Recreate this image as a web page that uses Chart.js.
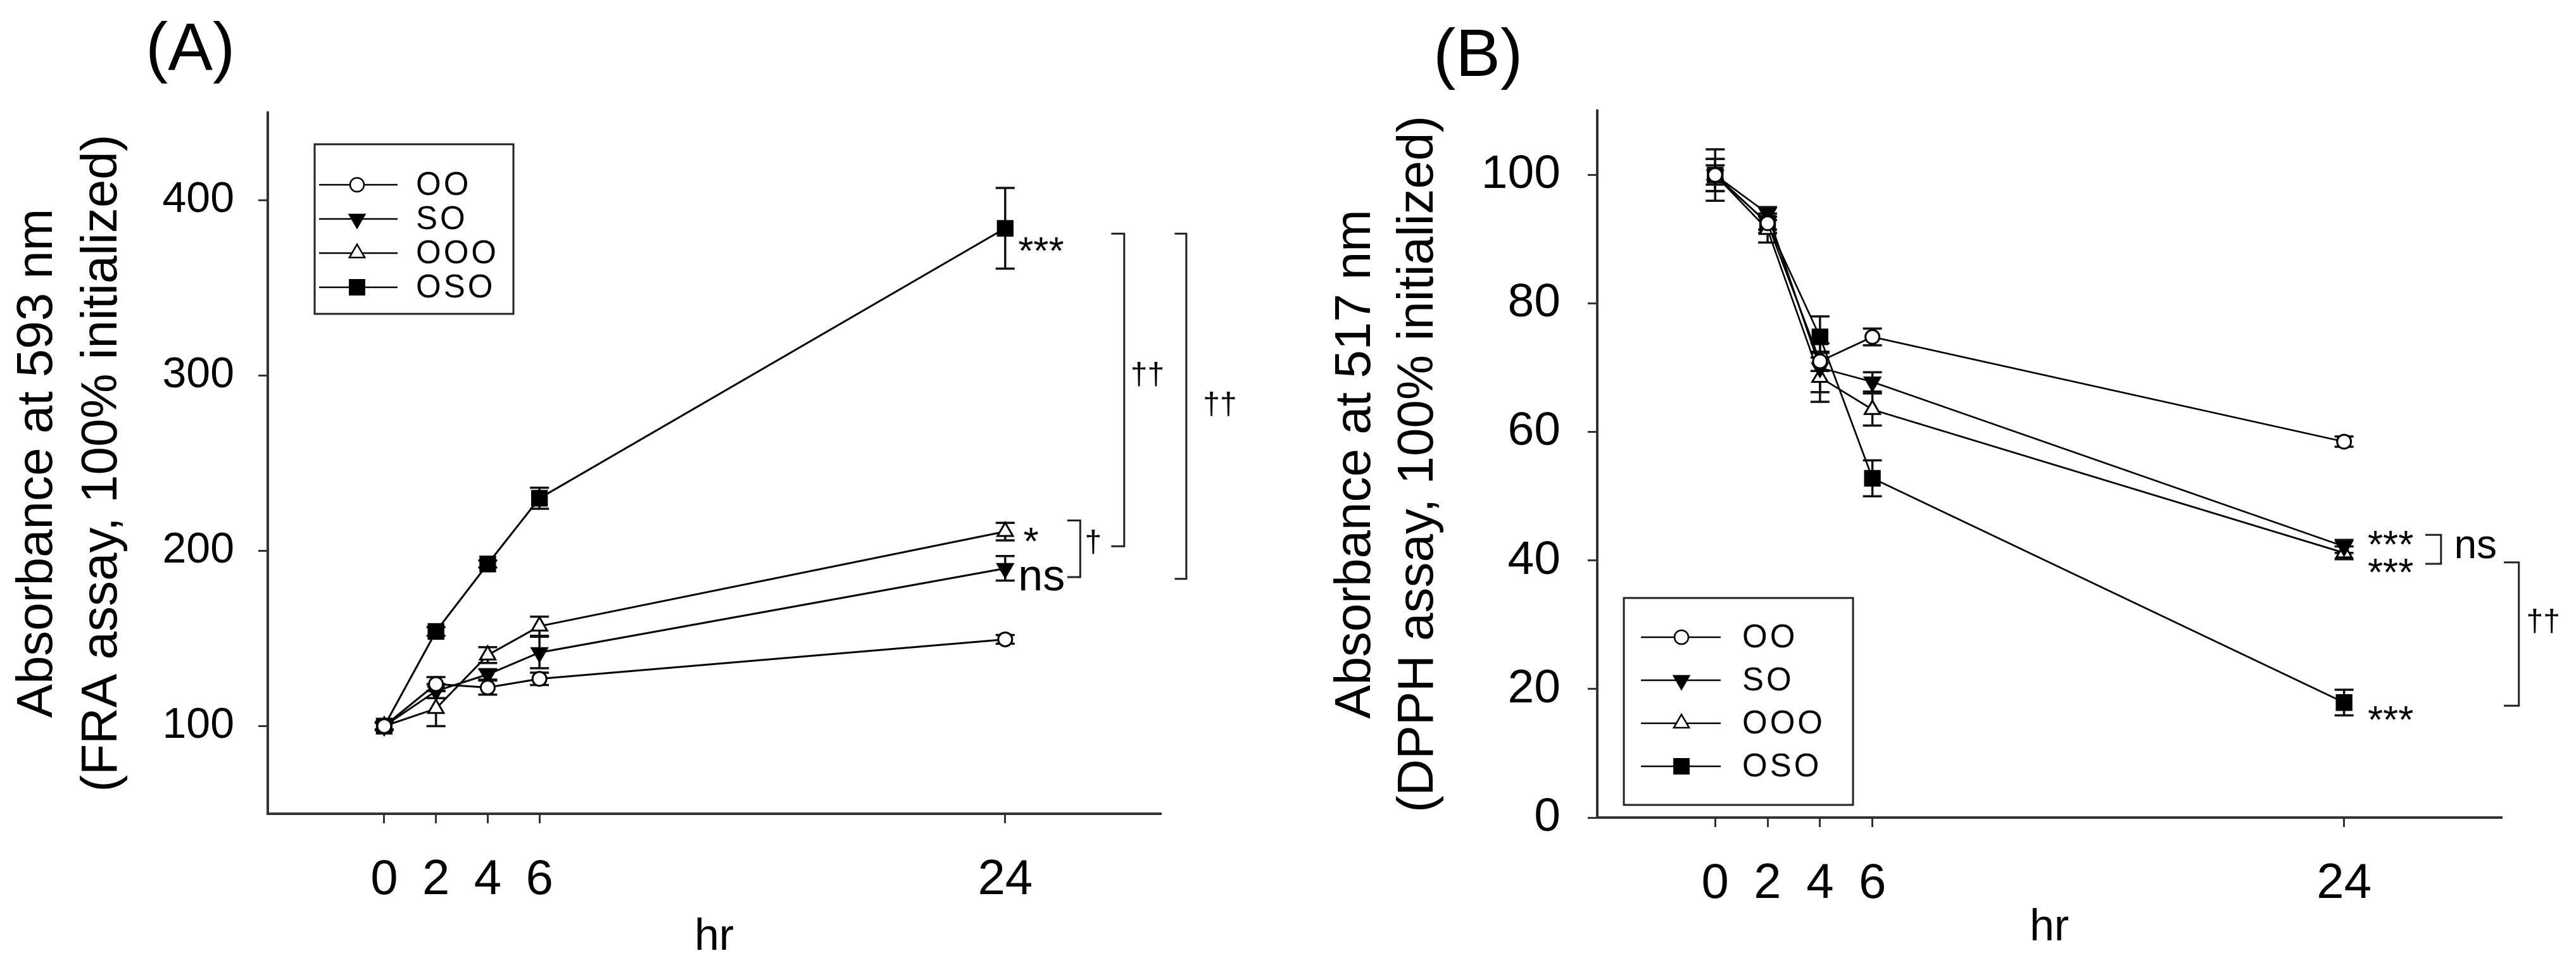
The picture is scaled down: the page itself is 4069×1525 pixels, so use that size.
<!DOCTYPE html>
<html>
<head>
<meta charset="utf-8">
<script src="https://cdn.jsdelivr.net/npm/chart.js@4.4.1/dist/chart.umd.min.js"></script>
<style>
html, body { margin: 0; padding: 0; background: #fff; }
#wrap { position: relative; width: 4069px; height: 1525px; }
canvas { position: absolute; top: 0; }
#chartA { left: 0; }
#chartB { left: 2030px; }
</style>
</head>
<body>
<div id="wrap">
  <canvas id="chartA" width="2030" height="1525"></canvas>
  <canvas id="chartB" width="2039" height="1525"></canvas>
</div>
<script>
// ═══ DATA ═══
const HOURS = [0, 2, 4, 6, 24];
const SERIES = ['OO', 'SO', 'OOO', 'OSO'];
const X_TICKS = [0, 2, 4, 6, 24];

// (A) FRA assay, absorbance at 593 nm
const FRA_TICKS = [100, 200, 300, 400];
const FRA_OO = [100, 124, 122, 127, 149.5];
const FRA_OO_ERR = [2, 4, 4, 3.5, 2.5];
const FRA_SO = [100, 120, 129.5, 142, 190];
const FRA_SO_ERR = [2, 4, 3, 9, 7];
const FRA_OOO = [100, 110, 140.5, 157, 211];
const FRA_OOO_ERR = [2, 10, 4.5, 5.5, 5];
const FRA_OSO = [100, 154, 192.5, 230, 384];
const FRA_OSO_ERR = [2, 2.5, 2, 6, 23];

// (B) DPPH assay, absorbance at 517 nm
const DPPH_TICKS = [0, 20, 40, 60, 80, 100];
const DPPH_OO = [100, 92.5, 71, 74.8, 58.5];
const DPPH_OO_ERR = [2.5, 1, 1.5, 1.3, 0.8];
const DPPH_SO = [100, 94, 70, 67.8, 42.2];
const DPPH_SO_ERR = [1.5, 1, 3.8, 1.5, 1];
const DPPH_OOO = [100, 91.5, 68.5, 63.5, 41.2];
const DPPH_OOO_ERR = [2.5, 2, 3.8, 2.5, 1];
const DPPH_OSO = [100, 92.5, 74.8, 52.8, 17.9];
const DPPH_OSO_ERR = [4, 1.5, 3.2, 2.8, 2];

const FONT = "'Liberation Sans', Arial, sans-serif";

// marker look per series
const MARKERS = {
  OO:  { style: 'circle',   fill: '#fff', radius: 11,  rotation: 0 },
  SO:  { style: 'triangle', fill: '#000', radius: 14,  rotation: 180 },
  OOO: { style: 'triangle', fill: '#fff', radius: 14,  rotation: 0 },
  OSO: { style: 'rect',     fill: '#000', radius: 16.5, rotation: 0 }
};

function makeSet(label, values, errs, lineW) {
  const m = MARKERS[label];
  return {
    label,
    data: HOURS.map((h, i) => ({ x: h, y: values[i] })),
    yErr: errs,
    borderColor: '#000',
    borderWidth: lineW,
    tension: 0,
    fill: false,
    pointStyle: m.style,
    pointRotation: m.rotation,
    pointRadius: m.radius,
    pointBackgroundColor: m.fill,
    pointBorderColor: '#000',
    pointBorderWidth: 3
  };
}

// ═══ ERROR BARS ═══
const errorBars = {
  id: 'errorBars',
  beforeDatasetsDraw(chart) {
    const { ctx, scales: { x, y } } = chart;
    ctx.save();
    ctx.strokeStyle = '#111';
    ctx.lineWidth = 3.5;
    chart.data.datasets.forEach(ds => {
      ds.data.forEach((p, i) => {
        const e = ds.yErr[i];
        const px = x.getPixelForValue(p.x);
        const top = y.getPixelForValue(p.y + e);
        const bot = y.getPixelForValue(p.y - e);
        ctx.beginPath();
        ctx.moveTo(px, top); ctx.lineTo(px, bot);
        ctx.moveTo(px - 15, top); ctx.lineTo(px + 15, top);
        ctx.moveTo(px - 15, bot); ctx.lineTo(px + 15, bot);
        ctx.stroke();
      });
    });
    ctx.restore();
  }
};

// ═══ PANEL DECOR: letter, legend box, brackets, significance marks ═══
function makeDecor(cfg) {
  return {
    id: 'decor',
    afterDraw(chart) {
      const { ctx, scales: { x, y } } = chart;
      ctx.save();

      ctx.fillStyle = '#000';
      ctx.font = `${cfg.letter.size}px ${FONT}`;
      ctx.textAlign = 'left';
      ctx.textBaseline = 'alphabetic';
      ctx.fillText(cfg.letter.text, cfg.letter.x, cfg.letter.y);

      const L = cfg.legend;
      ctx.lineWidth = 3;
      ctx.strokeStyle = '#222';
      ctx.strokeRect(L.x, L.y, L.w, L.h);
      chart.data.datasets.forEach((ds, i) => {
        const cy = L.y + L.row0 + i * L.step;
        ctx.lineWidth = 2.7;
        ctx.strokeStyle = '#000';
        ctx.beginPath();
        ctx.moveTo(L.x + L.lineX0, cy);
        ctx.lineTo(L.x + L.lineX1, cy);
        ctx.stroke();
        ctx.fillStyle = ds.pointBackgroundColor;
        ctx.lineWidth = 2.5;
        Chart.helpers.drawPoint(ctx, {
          pointStyle: ds.pointStyle, rotation: ds.pointRotation,
          radius: ds.pointRadius, borderWidth: 2.5
        }, L.x + L.markX, cy);
        ctx.fillStyle = '#000';
        ctx.font = `${L.font}px ${FONT}`;
        ctx.letterSpacing = '4px';
        ctx.textBaseline = 'middle';
        ctx.fillText(ds.label, L.x + L.textX, cy + 2);
        ctx.letterSpacing = '0px';
      });

      ctx.strokeStyle = '#222';
      ctx.lineWidth = 3;
      cfg.brackets.forEach(b => {
        const xv = x.getPixelForValue(b.x), x0 = x.getPixelForValue(b.x0);
        const y1 = y.getPixelForValue(b.y1), y2 = y.getPixelForValue(b.y2);
        ctx.beginPath();
        ctx.moveTo(x0, y1); ctx.lineTo(xv, y1); ctx.lineTo(xv, y2); ctx.lineTo(x0, y2);
        ctx.stroke();
      });

      ctx.fillStyle = '#000';
      ctx.textBaseline = 'alphabetic';
      cfg.notes.forEach(n => {
        ctx.font = `${n.size}px ${FONT}`;
        ctx.textAlign = n.align;
        ctx.fillText(n.text, x.getPixelForValue(n.x), y.getPixelForValue(n.y) + n.lift * n.size);
      });
      ctx.restore();
    }
  };
}

function axisX(height, titlePad) {
  return {
    type: 'linear', min: -4.5, max: 30,
    afterBuildTicks: a => { a.ticks = X_TICKS.map(v => ({ value: v })); },
    afterFit: s => { s.height = height; },
    grid: { drawOnChartArea: false, drawTicks: true, tickLength: 15, color: '#333', lineWidth: 3 },
    border: { display: true, color: '#333', width: 4 },
    ticks: { color: '#000', font: { family: FONT, size: 78 }, padding: 44, maxRotation: 0, autoSkip: false },
    title: { display: true, text: 'hr', color: '#000', font: { family: FONT, size: 70 }, padding: { top: 0, bottom: titlePad } }
  };
}

function axisY(min, max, ticks, width, tickSize, tickPad, title, lineH, titlePad) {
  return {
    min, max,
    afterBuildTicks: a => { a.ticks = ticks.map(v => ({ value: v })); },
    afterFit: s => { s.width = width; },
    grid: { drawOnChartArea: false, drawTicks: true, tickLength: 15, color: '#333', lineWidth: 3 },
    border: { display: true, color: '#333', width: 4 },
    ticks: { color: '#000', font: { family: FONT, size: tickSize }, padding: tickPad },
    title: { display: true, text: title, color: '#000', font: { family: FONT, size: 80, lineHeight: lineH }, padding: { top: titlePad, bottom: 0 } }
  };
}

// ═══ CHART A: FRA ═══
new Chart(document.getElementById('chartA'), {
  type: 'line',
  data: {
    datasets: [
      makeSet('OO', FRA_OO, FRA_OO_ERR, 3),
      makeSet('SO', FRA_SO, FRA_SO_ERR, 3),
      makeSet('OOO', FRA_OOO, FRA_OOO_ERR, 3),
      makeSet('OSO', FRA_OSO, FRA_OSO_ERR, 3)
    ]
  },
  options: {
    responsive: false,
    animation: false,
    devicePixelRatio: 1,
    layout: { padding: { left: 0, top: 178, right: 197, bottom: 0 } },
    plugins: { legend: { display: false }, tooltip: { enabled: false } },
    scales: {
      x: axisX(239, 1),
      y: axisY(50, 450, FRA_TICKS, 423, 68, 38,
        ['Absorbance at 593 nm', '(FRA assay, 100% initialized)'], 1.275, 9)
    }
  },
  plugins: [errorBars, makeDecor({
    letter: { text: '(A)', x: 230, y: 110, size: 106 },
    legend: { x: 497, y: 228, w: 314, h: 268, row0: 64, step: 54, lineX0: 7, lineX1: 131, markX: 67, textX: 160, font: 51 },
    brackets: [
      { x: 28.6, x0: 28.1, y1: 381, y2: 202.6 },
      { x: 31.0, x0: 30.55, y1: 381, y2: 184 },
      { x: 26.9, x0: 26.4, y1: 217.3, y2: 185 }
    ],
    notes: [
      { text: '***', x: 24.5, y: 376.7, size: 62, align: 'left', lift: 0.585 },
      { text: '*', x: 24.7, y: 211, size: 62, align: 'left', lift: 0.585 },
      { text: 'ns', x: 24.5, y: 184, size: 70, align: 'left', lift: 0.26 },
      { text: '†', x: 27.4, y: 204.5, size: 48, align: 'center', lift: 0.285 },
      { text: '††', x: 29.5, y: 300, size: 48, align: 'center', lift: 0.285 },
      { text: '††', x: 32.3, y: 283, size: 48, align: 'center', lift: 0.285 }
    ]
  })]
});

// ═══ CHART B: DPPH ═══
new Chart(document.getElementById('chartB'), {
  type: 'line',
  data: {
    datasets: [
      makeSet('OO', DPPH_OO, DPPH_OO_ERR, 2.7),
      makeSet('SO', DPPH_SO, DPPH_SO_ERR, 2.7),
      makeSet('OOO', DPPH_OOO, DPPH_OOO_ERR, 2.7),
      makeSet('OSO', DPPH_OSO, DPPH_OSO_ERR, 2.7)
    ]
  },
  options: {
    responsive: false,
    animation: false,
    devicePixelRatio: 1,
    layout: { padding: { left: 0, top: 175, right: 118, bottom: 0 } },
    plugins: { legend: { display: false }, tooltip: { enabled: false } },
    scales: {
      x: axisX(233, 16),
      y: axisY(0, 110, DPPH_TICKS, 493, 75, 43,
        ['Absorbance at 517 nm', '(DPPH assay, 100% initialized)'], 1.2375, 62)
    }
  },
  plugins: [errorBars, makeDecor({
    letter: { text: '(B)', x: 234, y: 120, size: 106 },
    legend: { x: 535, y: 945, w: 362, h: 327, row0: 62, step: 68, lineX0: 27, lineX1: 153, markX: 91, textX: 187, font: 51 },
    brackets: [
      { x: 27.7, x0: 27.1, y1: 44.0, y2: 39.5 },
      { x: 30.67, x0: 30.1, y1: 39.7, y2: 17.4 }
    ],
    notes: [
      { text: '***', x: 24.9, y: 44, size: 62, align: 'left', lift: 0.585 },
      { text: '***', x: 24.9, y: 39.7, size: 62, align: 'left', lift: 0.585 },
      { text: '***', x: 24.9, y: 16.8, size: 62, align: 'left', lift: 0.585 },
      { text: 'ns', x: 28.2, y: 42, size: 64, align: 'left', lift: 0.26 },
      { text: '††', x: 31.6, y: 30.4, size: 48, align: 'center', lift: 0.285 }
    ]
  })]
});
</script>
</body>
</html>
